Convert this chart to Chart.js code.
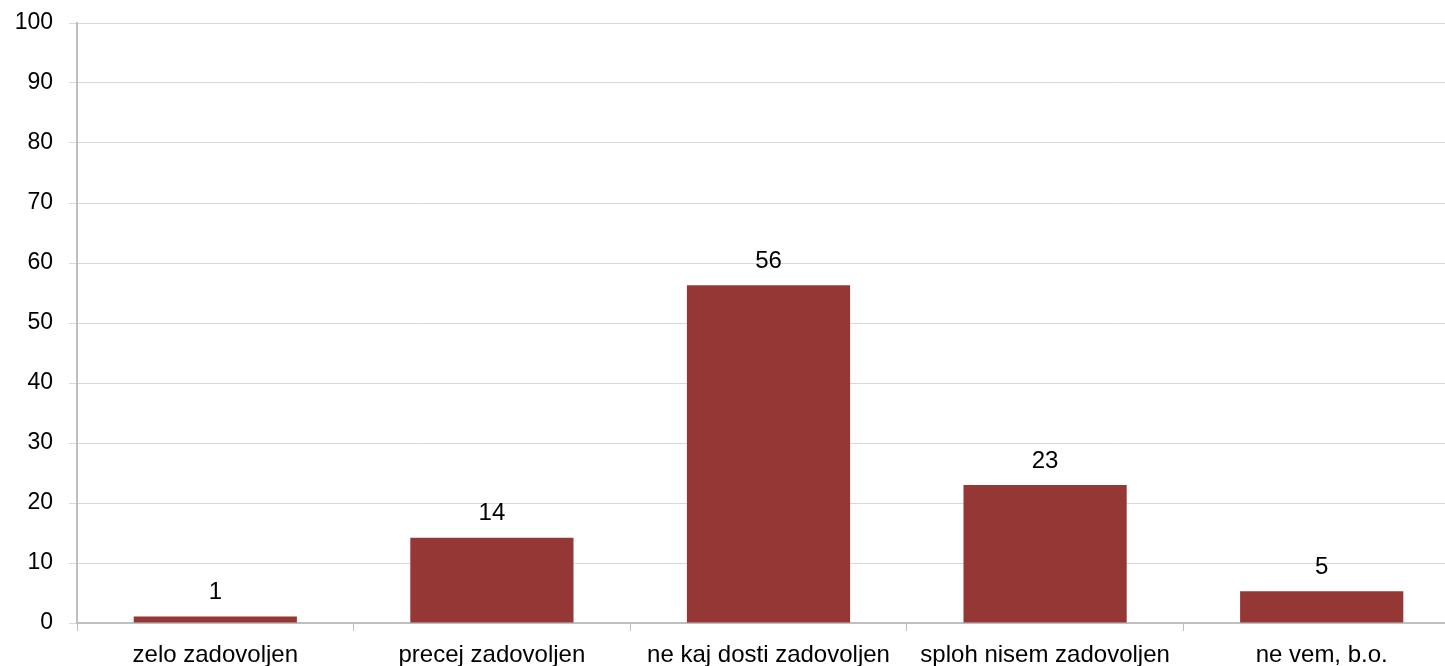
<!DOCTYPE html>
<html>
<head>
<meta charset="utf-8">
<script src="https://cdn.jsdelivr.net/npm/chart.js@4/dist/chart.umd.min.js"></script>
<style>
  body { margin: 0; background: #fff; overflow: hidden; }
  canvas { display: block; }
</style>
</head>
<body>
<!-- plot area runs a little past the right window edge, as in the original -->
<canvas id="bar" width="1460" height="666"></canvas>
<script>
const categories = [
  "zelo zadovoljen",
  "precej zadovoljen",
  "ne kaj dosti zadovoljen",
  "sploh nisem zadovoljen",
  "ne vem, b.o.",
];
const values = [1.1, 14.2, 56.3, 23.0, 5.3];
const yTicks = [0, 10, 20, 30, 40, 50, 60, 70, 80, 90, 100];

const FONT = "'Liberation Sans', Arial, sans-serif";

// value labels above each bar
const valueLabels = {
  id: "valueLabels",
  afterDatasetsDraw(chart) {
    const ctx = chart.ctx;
    const meta = chart.getDatasetMeta(0);
    ctx.save();
    ctx.font = "24px " + FONT;
    ctx.fillStyle = "#000";
    ctx.textAlign = "center";
    ctx.textBaseline = "middle";
    meta.data.forEach((bar, i) => {
      ctx.fillText(Math.round(values[i]).toString(), bar.x, bar.y - 24);
    });
    ctx.restore();
  },
};

new Chart(document.getElementById("bar"), {
  type: "bar",
  data: {
    labels: categories,
    datasets: [
      {
        data: values,
        backgroundColor: "#953735",
        borderWidth: 0,
        barPercentage: 0.59,
        categoryPercentage: 1,
      },
    ],
  },
  options: {
    responsive: false,
    animation: false,
    layout: { padding: 0 },
    plugins: {
      legend: { display: false },
      tooltip: { enabled: false },
    },
    scales: {
      x: {
        offset: true,
        grid: {
          offset: true,
          drawOnChartArea: false,
          tickLength: 8,
          color: "#bfbfbf",
        },
        border: { color: "#bfbfbf", width: 2 },
        ticks: {
          color: "#000",
          font: { size: 24, family: FONT },
          padding: 10,
          maxRotation: 0,
          autoSkip: false,
        },
        afterFit(scale) {
          scale.height = 43;
        },
      },
      y: {
        min: 0,
        max: 100,
        afterBuildTicks(scale) {
          scale.ticks = yTicks.map((v) => ({ value: v }));
        },
        grid: { color: "#d9d9d9", tickLength: 8, lineWidth: 1 },
        border: { color: "#bfbfbf", width: 2 },
        ticks: {
          color: "#000",
          font: { size: 23, family: FONT },
          padding: 16,
        },
        afterFit(scale) {
          scale.width = 77;
          scale.paddingTop = 23;
        },
      },
    },
  },
  plugins: [valueLabels],
});
</script>
</body>
</html>
